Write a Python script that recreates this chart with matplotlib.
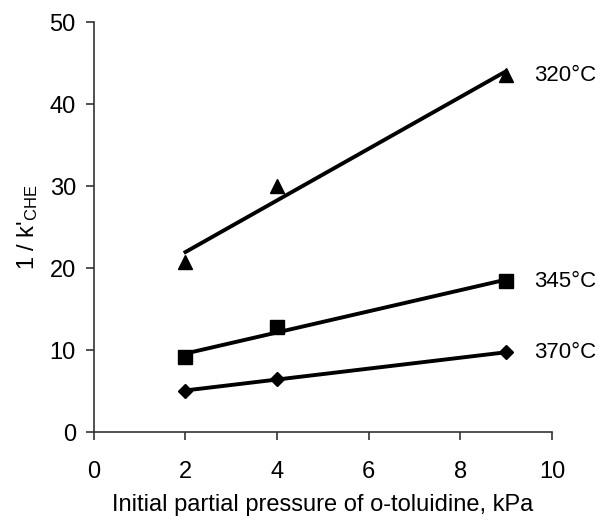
import matplotlib
matplotlib.use("Agg")
import matplotlib.pyplot as plt
import numpy as np

plt.rcParams['font.family'] = ['Liberation Sans', 'DejaVu Sans']
plt.rcParams['mathtext.default'] = 'regular'

# initial partial pressure of o-toluidine, kPa
pressure = [2, 4, 9]

# 1/k'CHE at each temperature
y_320 = [20.7, 30.0, 43.5]
y_345 = [9.1, 12.8, 18.4]
y_370 = [5.0, 6.5, 9.7]

series = [
    ('320°C', y_320, '^'),
    ('345°C', y_345, 's'),
    ('370°C', y_370, 'D'),
]

fig = plt.figure(figsize=(5.98, 5.19), dpi=100)
ax = fig.add_axes([0.157, 0.1676, 0.766, 0.79])

for name, ys, mk in series:
    ax.plot(pressure, ys, linestyle='none', marker=mk, color='black',
            markersize=9.5 if mk != 'D' else 7.5, zorder=3)
    # linear trend line through the points
    k, b = np.polyfit(pressure, ys, 1)
    xs = np.array([pressure[0], pressure[-1]])
    ax.plot(xs, k * xs + b, color='black', linewidth=2.8, zorder=2)
    ax.text(9.6, ys[-1], name, fontsize=16, va='center', ha='left')

ax.set_xlim(0, 10)
ax.set_ylim(0, 50)
ax.set_xticks([0, 2, 4, 6, 8, 10])
ax.set_yticks([0, 10, 20, 30, 40, 50])

for s in ['top', 'right']:
    ax.spines[s].set_visible(False)
for s in ['left', 'bottom']:
    ax.spines[s].set_color('#333333')
    ax.spines[s].set_linewidth(1.2)

ax.tick_params(direction='out', length=6, width=1.2, color='#333333',
               labelsize=17)
ax.tick_params(axis='x', pad=15)
ax.tick_params(axis='y', pad=7)
ax.set_xlabel('Initial partial pressure of o-toluidine, kPa', fontsize=17)
ax.set_ylabel("1 / k'$_{CHE}$", fontsize=17, va='center')
ax.xaxis.set_label_coords(0.5, -0.15)
ax.yaxis.set_label_coords(-0.144, 0.5)

fig.savefig('out.png', dpi=100)
